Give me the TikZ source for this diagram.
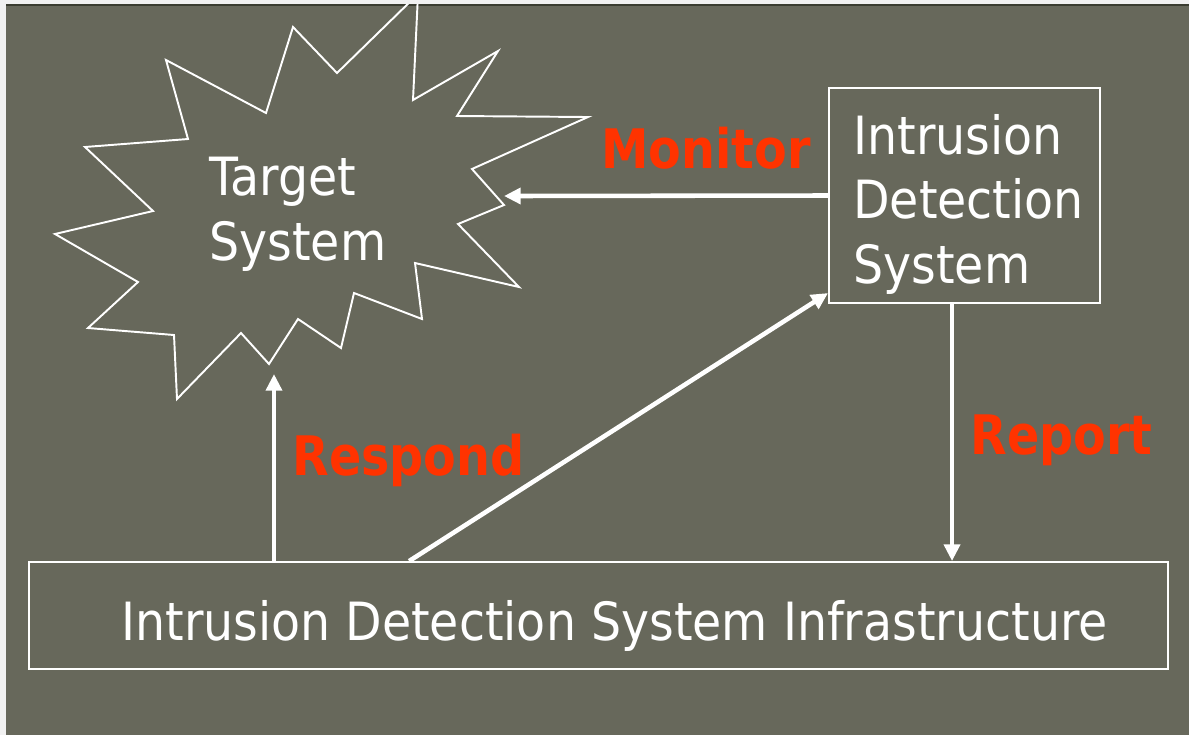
\documentclass[tikz,border=0pt]{standalone}
\usepackage{fontspec}
\usetikzlibrary{arrows.meta}
\newfontfamily\boxfont[FakeStretch=0.90]{DejaVu Sans}
\newfontfamily\tagfont[FakeStretch=0.875]{DejaVu Sans}
\definecolor{slate}{RGB}{103,104,91}
\definecolor{paper}{RGB}{241,241,241}
\definecolor{rim}{RGB}{58,60,48}
\definecolor{alarm}{RGB}{255,51,0}

\begin{document}
\begin{tikzpicture}[x=0.02cm,y=-0.02cm,>={Triangle[length=9.5pt,width=9pt]},
    box node/.style={rectangle,draw=white,line width=1.1pt,inner sep=0pt},
    box text/.style={text=white,font=\boxfont\fontsize{30}{36.5}\selectfont,align=left,inner sep=0pt,anchor=base west},
    tag text/.style={text=alarm,font=\tagfont\bfseries\fontsize{31}{36}\selectfont,inner sep=0pt,anchor=base},
    flow/.style={->,draw=white,line width=2.6pt}]

  \useasboundingbox (0,0) rectangle (1189,735);
  \fill[paper] (0,0) rectangle (1189,735);
  \fill[slate] (6,4) rectangle (1189,735);
  \draw[rim,line width=1.2pt] (6,5) -- (1189,5);

  % the target, drawn as a burst
  \begin{scope}
    \clip (6,4) rectangle (1189,735);
    \draw[white,line width=1.1pt] (418,-6) -- (413,100) -- (498,51) -- (457,116) -- (588,117)
      -- (472,169) -- (504,205) -- (458,224) -- (519,287) -- (415,263) -- (422,319)
      -- (354,293) -- (341,348) -- (298,319) -- (269,364) -- (241,333) -- (177,399)
      -- (174,335) -- (88,328) -- (138,282) -- (55,234) -- (153,211) -- (85,147)
      -- (188,139) -- (166,60) -- (266,113) -- (293,27) -- (337,73) -- cycle;
  \end{scope}
  \coordinate (tgtE) at (504,196);
  \coordinate (tgtS) at (274,374);
  \node[box text] (tgt) at (209,260) {Target\\System};

  \node[box node,minimum width=5.42cm,minimum height=4.3cm] (ids) at (964.5,195.5) {};
  \node[box text] (idstext) at (853,283) {Intrusion\\Detection\\System};

  \node[box node,minimum width=22.78cm,minimum height=2.14cm] (infra) at (598.5,615.5) {};
  \node[box text] (infratext) at (121,640) {Intrusion Detection System Infrastructure};

  \draw[flow] (ids.west) -- (tgtE);
  \draw[flow] (tgtS |- infra.north) -- (tgtS);
  \draw[flow] (infra.north west) ++(381,0) -- ([yshift=6.2pt]ids.south west);
  \draw[flow] ([xshift=-7.1pt]ids.south) -- ([xshift=-7.1pt]ids.south |- infra.north);

  \node[tag text] (monitor) at (706,168) {Monitor};
  \node[tag text] (respond) at (408.5,475) {Respond};
  \node[tag text] (report) at (1061.5,454) {Report};
\end{tikzpicture}
\end{document}
